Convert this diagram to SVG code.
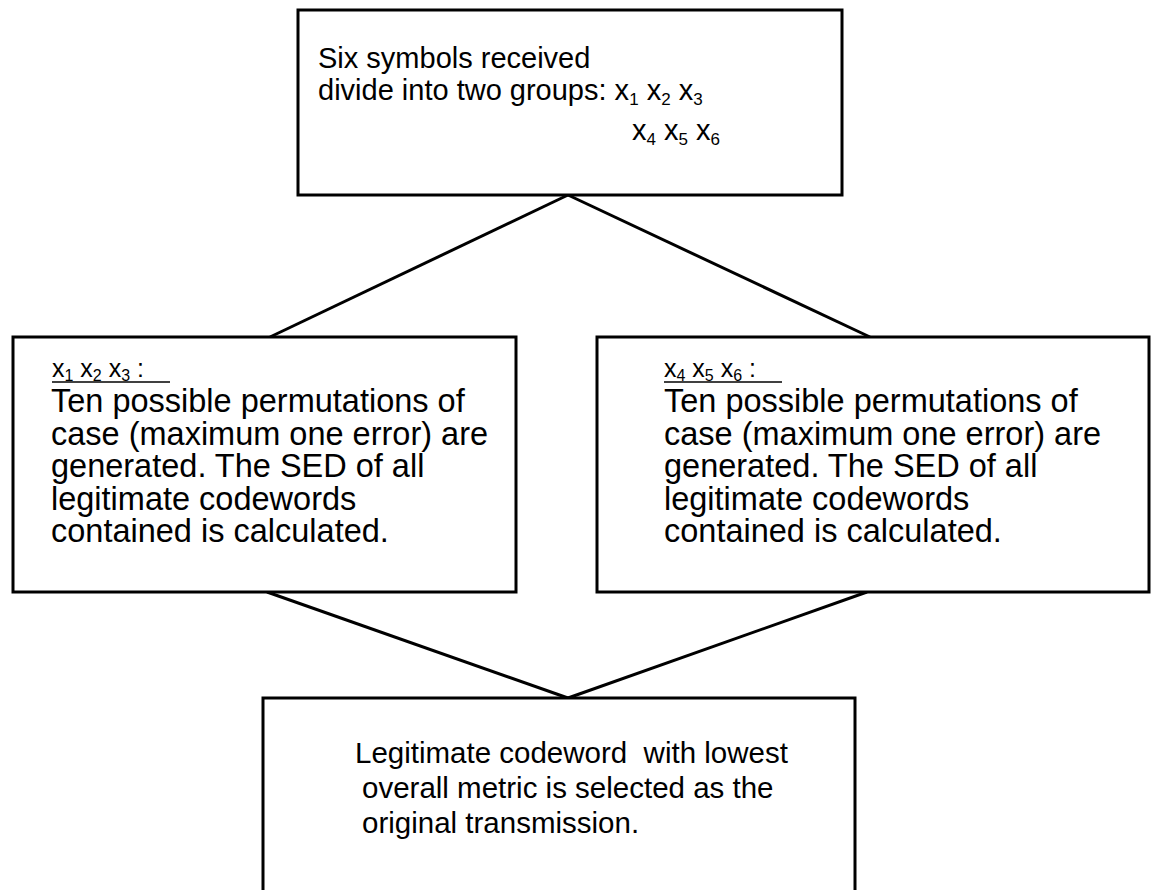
<svg xmlns="http://www.w3.org/2000/svg" width="1151" height="890" viewBox="0 0 1151 890">
<style>
.box{fill:#fff;stroke:#000;stroke-width:3}
.conn{stroke:#000;stroke-width:3;fill:none}
.t{font-family:"Liberation Sans",Arial,sans-serif;fill:#000}
.top{font-size:29px}
.body{font-size:32.5px}
.head{font-size:25px}
.bot{font-size:29.5px}
.ul{stroke:#000;stroke-width:1.5}
</style>
<rect width="1151" height="890" fill="#fff"/>
<g id="connectors">
<line class="conn" x1="568" y1="195" x2="270" y2="337"/>
<line class="conn" x1="568" y1="195" x2="870" y2="337"/>
<line class="conn" x1="267" y1="592" x2="568" y2="698"/>
<line class="conn" x1="867" y1="592" x2="568" y2="698"/>
</g>
<g id="node-top">
<rect class="box" x="298" y="10" width="544" height="185"/>
<text class="t top" x="318" y="68">Six symbols received</text>
<text class="t top" x="318" y="100">divide into two groups: x<tspan font-size="17" dy="5">1</tspan><tspan dy="-5"> x</tspan><tspan font-size="17" dy="5">2</tspan><tspan dy="-5"> x</tspan><tspan font-size="17" dy="5">3</tspan></text>
<text class="t top" x="632" y="140">x<tspan font-size="17" dy="5">4</tspan><tspan dy="-5"> x</tspan><tspan font-size="17" dy="5">5</tspan><tspan dy="-5"> x</tspan><tspan font-size="17" dy="5">6</tspan></text>
</g>
<g id="node-left">
<rect class="box" x="13" y="337" width="503" height="255"/>
<text class="t head" x="52" y="377">x<tspan font-size="16" dy="4">1</tspan><tspan dy="-4"> x</tspan><tspan font-size="16" dy="4">2</tspan><tspan dy="-4"> x</tspan><tspan font-size="16" dy="4">3</tspan><tspan dy="-4"> :</tspan></text>
<line class="ul" x1="52" y1="382" x2="170" y2="382"/>
<text class="t body" x="51" y="412">Ten possible permutations of</text>
<text class="t body" x="51" y="444.5">case (maximum one error) are</text>
<text class="t body" x="51" y="477">generated. The SED of all</text>
<text class="t body" x="51" y="509.5">legitimate codewords</text>
<text class="t body" x="51" y="542">contained is calculated.</text>
</g>
<g id="node-right">
<rect class="box" x="597" y="337" width="552" height="255"/>
<text class="t head" x="664" y="377">x<tspan font-size="16" dy="4">4</tspan><tspan dy="-4"> x</tspan><tspan font-size="16" dy="4">5</tspan><tspan dy="-4"> x</tspan><tspan font-size="16" dy="4">6</tspan><tspan dy="-4"> :</tspan></text>
<line class="ul" x1="664" y1="382" x2="782" y2="382"/>
<text class="t body" x="664" y="412">Ten possible permutations of</text>
<text class="t body" x="664" y="444.5">case (maximum one error) are</text>
<text class="t body" x="664" y="477">generated. The SED of all</text>
<text class="t body" x="664" y="509.5">legitimate codewords</text>
<text class="t body" x="664" y="542">contained is calculated.</text>
</g>
<g id="node-bottom">
<rect class="box" x="263" y="698" width="592" height="210"/>
<text class="t bot" x="355" y="763" xml:space="preserve">Legitimate codeword  with lowest</text>
<text class="t bot" x="362" y="798">overall metric is selected as the</text>
<text class="t bot" x="362" y="833">original transmission.</text>
</g>
</svg>
